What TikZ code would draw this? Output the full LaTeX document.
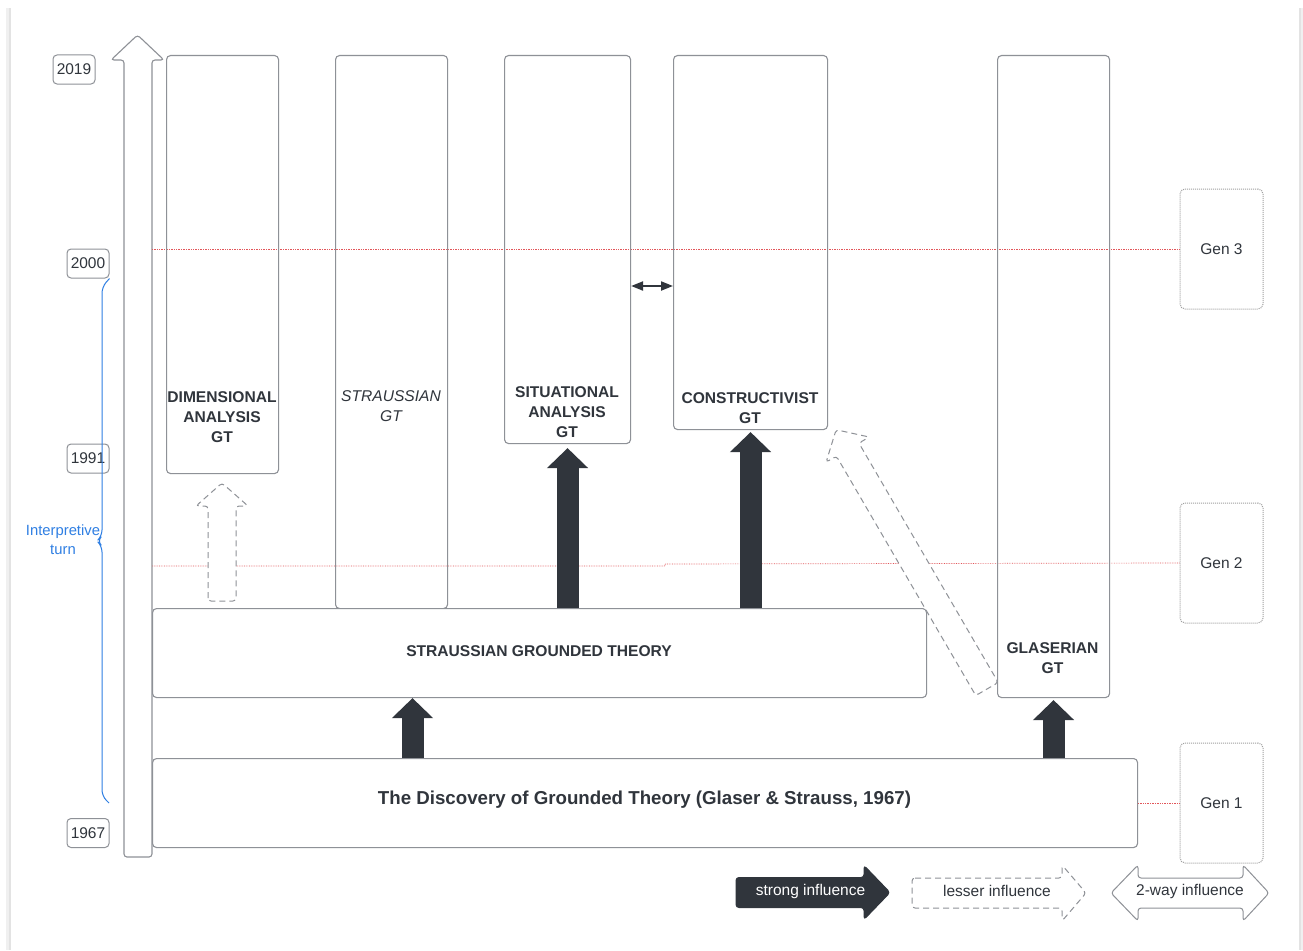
\documentclass[tikz,border=0pt]{standalone}
\usepackage{fontspec}
\setmainfont{Liberation Sans}
\usetikzlibrary{arrows.meta,calc}
\definecolor{ink}{HTML}{30353C}
\definecolor{edge}{HTML}{8E9197}
\definecolor{turnblue}{HTML}{2F7FE3}
\definecolor{genline}{HTML}{E2565A}

% hollow or filled block arrow: style, origin, angle, length, half shaft, half head, head length
\newcommand\shaftarrow[7]{%
  \begin{scope}[shift={#2},rotate=#3]
    \draw[#1] (0,-#5) -- ({#4-#7},-#5) -- ({#4-#7},-#6) -- (#4,0)
      -- ({#4-#7},#6) -- ({#4-#7},#5) -- (0,#5) -- cycle;
  \end{scope}}

\begin{document}
\begin{tikzpicture}[x=1pt,y=-1pt,
  stage/.style={draw=edge,line width=1.1pt,rounded corners=4pt,anchor=north west,inner sep=0pt},
  yearbox/.style={draw=edge,line width=1pt,rounded corners=4pt,minimum width=42pt,
    minimum height=29pt,inner sep=0pt,text=ink,font=\fontsize{15.5}{18}\selectfont},
  genbox/.style={draw=gray!75,densely dotted,line width=1pt,rounded corners=5pt,
    minimum width=83pt,minimum height=120pt,inner sep=0pt,text=ink,font=\fontsize{15.5}{18}\selectfont},
  caption/.style={text=ink,align=center,inner sep=0pt,font=\fontsize{15.6}{20}\selectfont\bfseries},
  strong/.style={ink,line width=22pt,-{Triangle[width=40pt,length=20pt]}},
  lesser/.style={draw=edge,line width=1pt,dash pattern=on 6pt off 4pt,rounded corners=3pt},
  genrule/.style={genline,densely dotted,line width=0.7pt},
  legendtext/.style={inner sep=0pt,font=\fontsize{15.5}{18}\selectfont}]

% page with a soft shadow at its sides
\useasboundingbox (0,0) rectangle (1303,950);
\fill[white] (0,0) rectangle (1303,950);
\fill[gray!12] (6,8) rectangle (1303,950);
\fill[gray!22] (9,8) rectangle (1301,950);
\fill[white] (11,8) rectangle (1299,950);

% time axis
\draw[edge,line width=1.1pt,fill=white,rounded corners=3pt]
  (124,857) -- (124,60) -- (111,60) -- (137.5,35) -- (164,60) -- (152,60) -- (152,857) -- cycle;

\node[yearbox] (y2019) at (74,69.5) {2019};
\node[yearbox] (y2000) at (88,263.5) {2000};
\node[yearbox] (y1991) at (88,458.5) {1991};
\node[yearbox] (y1967) at (88,833) {1967};

% interpretive turn brace
\draw[turnblue,line width=1pt,rounded corners=6pt]
  (y2000.south east) -- (102,287) -- (102,536) -- (97,541) -- (102,546) -- (102,796) -- (109,803);
\node[text=turnblue,align=center,inner sep=0pt,font=\fontsize{14.8}{19}\selectfont] (turnlbl) at (63,539.5) {Interpretive\\turn};

% generation rules
\node[genbox] (gen3) at (1221.5,249) {Gen 3};
\node[genbox] (gen2) at (1221.5,563) {Gen 2};
\node[genbox] (gen1) at (1221.5,803) {Gen 1};
\coordinate (axisr) at (152,0);
\draw[genrule] (gen3.west) -- (gen3.west -| axisr);
\draw[genrule] (gen2.west) -- (665,564) -- (665,566) -- (152,566);

% stages
\node[stage,minimum width=112pt,minimum height=418pt] (dim) at (166,55) {};
\node[stage,minimum width=112pt,minimum height=553pt] (sgt) at (335,55) {};
\node[stage,minimum width=126pt,minimum height=388pt] (sit) at (504,55) {};
\node[stage,minimum width=154pt,minimum height=374pt] (con) at (673,55) {};
\node[stage,minimum width=112pt,minimum height=642pt] (gla) at (997,55) {};
\node[stage,fill=white,minimum width=774pt,minimum height=89pt] (strauss) at (152,608) {};
\node[stage,fill=white,minimum width=985pt,minimum height=89pt] (disc) at (152,758) {};
\draw[genrule] (gen1.west) -- (disc.east |- gen1.west);

\node[caption] (dimtxt) at (222,417) {DIMENSIONAL\\ANALYSIS\\GT};
\node[caption,font=\fontsize{15.6}{20}\selectfont\itshape] (sgttxt) at (391,406) {STRAUSSIAN\\GT};
\node[caption] (sittxt) at (567,412) {SITUATIONAL\\ANALYSIS\\GT};
\node[caption] (contxt) at (750,408) {CONSTRUCTIVIST\\GT};
\node[caption] (glatxt) at (1052.5,658) {GLASERIAN\\GT};
\node[caption] (strausstxt) at (539,651) {STRAUSSIAN GROUNDED THEORY};
\node[caption,font=\fontsize{18.7}{22}\selectfont\bfseries] (disctxt) at (644.5,800) {The Discovery of Grounded Theory (Glaser \& Strauss, 1967)};

% strong influences
\coordinate (k1) at (412.5,0);
\draw[strong] (disc.north -| k1) -- (strauss.south -| k1);
\draw[strong,shorten >=2pt] (disc.north -| gla.south) -- (gla.south);
\draw[strong,shorten >=4pt] (strauss.north -| sit.south) -- (sit.south);
\draw[strong,shorten >=2pt] (strauss.north -| con.south) -- (con.south);

% two-way influence
\coordinate (twoway) at (0,286);
\draw[ink,line width=2pt,{Triangle[width=9pt,length=12pt]}-{Triangle[width=9pt,length=12pt]}]
  (sit.east |- twoway) -- (con.west |- twoway);

% lesser influences
\shaftarrow{lesser,fill=white}{(222,601)}{90}{118}{14}{26}{23}
\shaftarrow{lesser,fill=white}{(987,689)}{120.2}{300}{13}{25}{23}

% legend
\shaftarrow{fill=ink,draw=ink,line width=1pt,rounded corners=3pt}{(736,892.5)}{0}{154}{15}{27}{26}
\node[legendtext,text=white] (lg1) at (810.5,891) {strong influence};
\shaftarrow{lesser,fill=white}{(912,893)}{0}{174}{15}{28}{24}
\node[legendtext,text=ink] (lg2) at (997,891) {lesser influence};
\draw[edge,line width=1pt,fill=white,rounded corners=3pt]
  (1111,893) -- (1138,865) -- (1138,878) -- (1243,878) -- (1243,865) -- (1269,893)
  -- (1243,921) -- (1243,908) -- (1138,908) -- (1138,921) -- cycle;
\node[legendtext,text=ink] (lg3) at (1190,891) {2-way influence};
\end{tikzpicture}
\end{document}
